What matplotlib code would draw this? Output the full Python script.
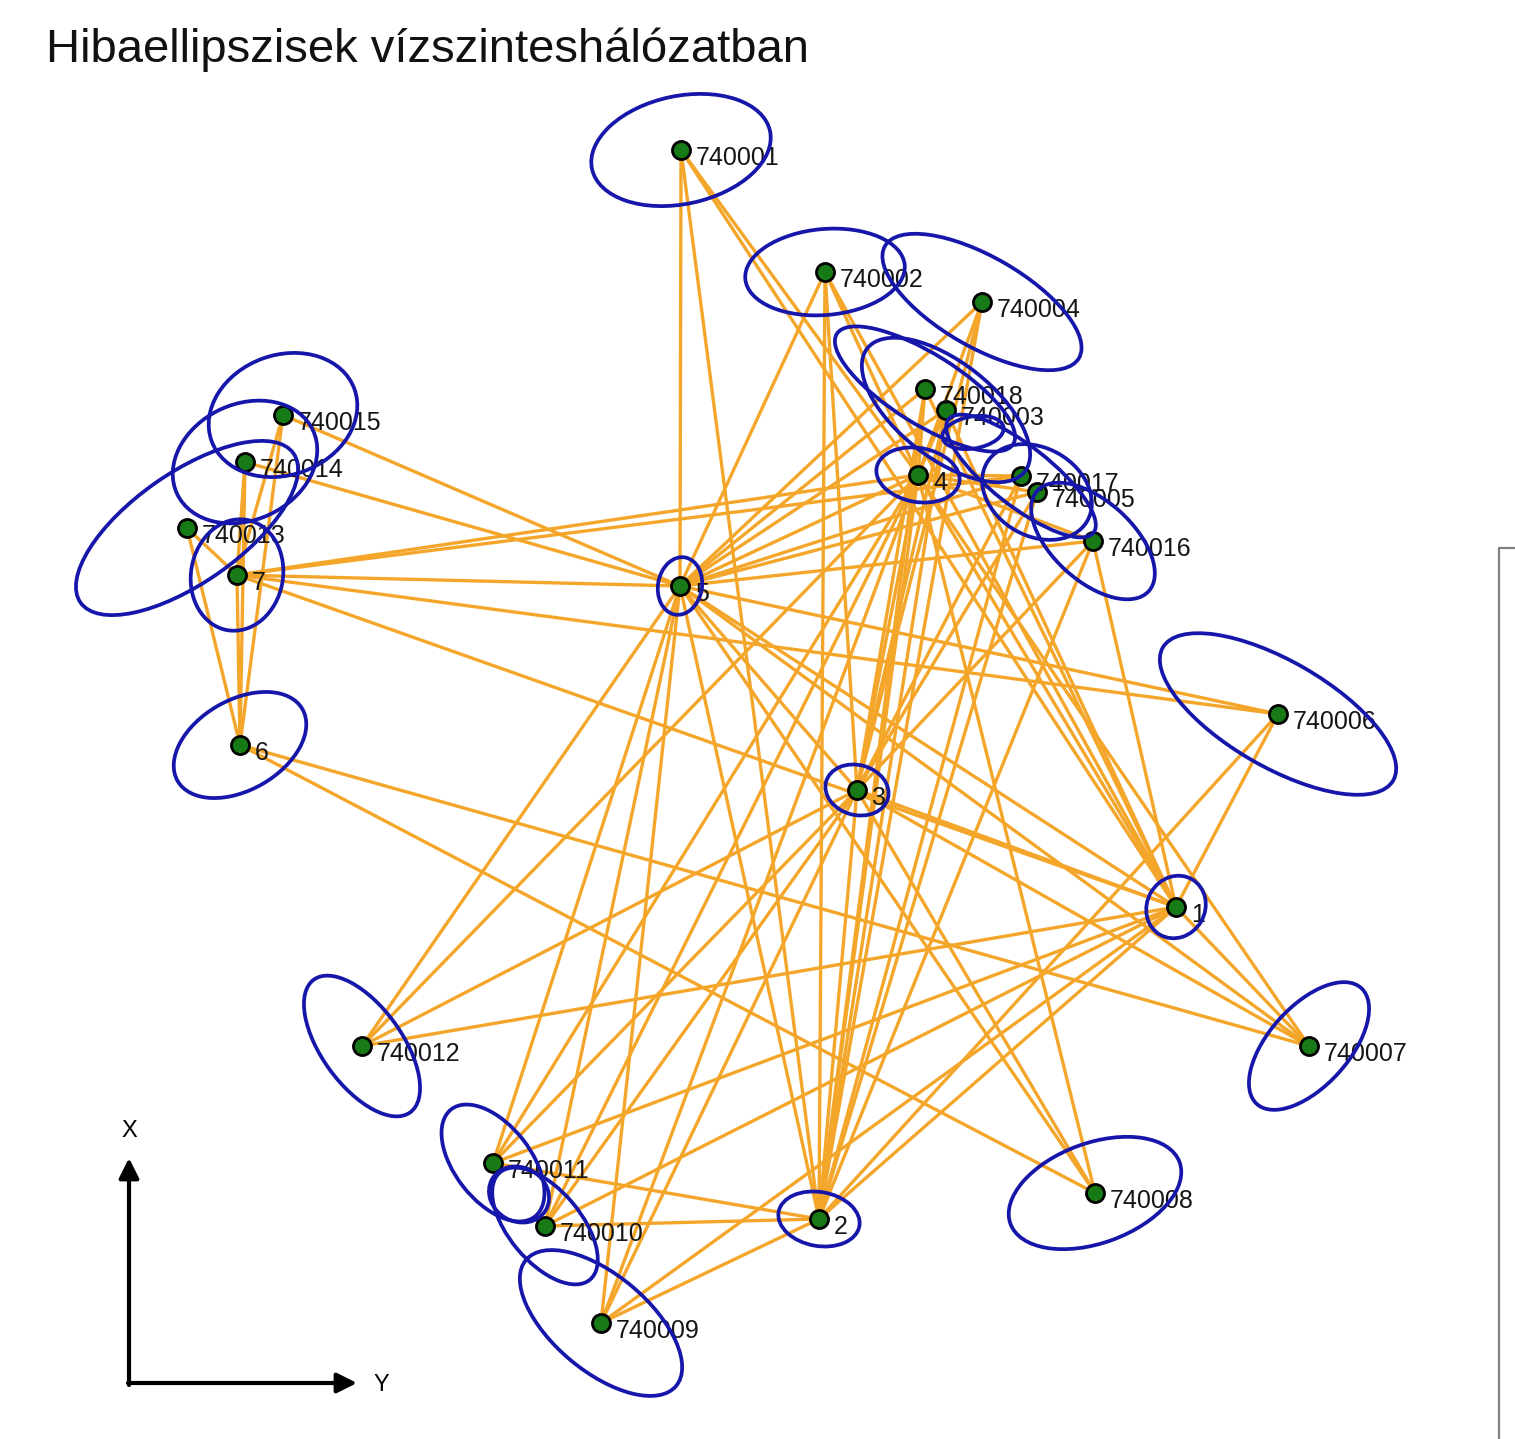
import matplotlib
matplotlib.use("Agg")
import matplotlib.pyplot as plt
from matplotlib.patches import Ellipse

# point names and coordinates (Y = east, X = north)
names = ['740001', '740002', '740004', '740018', '740003', '4', '740017', '740005',
         '740016', '740015', '740014', '740013', '7', '5', '6', '740006', '3', '1',
         '740007', '740012', '740011', '740010', '2', '740008', '740009']
Y = [681, 825, 982, 925, 946, 918, 1021, 1037, 1093, 283, 245, 187, 237, 680, 240,
     1278, 857, 1176, 1309, 362, 493, 545, 819, 1095, 601]
X = [1289, 1167, 1137, 1050, 1029, 964, 963, 947, 898, 1024, 977, 911, 864, 853, 694,
     725, 649, 532, 393, 393, 276, 213, 220, 246, 116]

# error ellipses: full major axis, full minor axis, orientation (deg)
ell_major = [182, 160, 224, 208, 200, 84, 184, 116, 150, 152, 150, 260, 112, 58, 144,
             266, 64, 64, 156, 164, 136, 140, 82, 180, 196]
ell_minor = [108, 86, 90, 70, 96, 54, 60, 88, 80, 120, 116, 110, 92, 44, 90,
             106, 50, 58, 80, 80, 76, 72, 54, 100, 96]
ell_angle = [12, 5, -30, -32, -38, -10, -38, -30, -42, 20, 25, 35, 80, 80, 30,
             -30, -15, 60, 48, -54, -52, -50, -10, 20, -40]

# relative ellipses between point pairs (drawn at the midpoint)
rel_pairs = [('740011', '740010'), ('740018', '740017')]
rel_major = [62, 62]
rel_minor = [54, 32]
rel_angle = [-30, 10]

# observations
edges = [
    # from 5
    ('5', '740001'), ('5', '740002'), ('5', '740004'), ('5', '740018'), ('5', '740003'),
    ('5', '4'), ('5', '740017'), ('5', '740005'), ('5', '740016'), ('5', '740015'),
    ('5', '740014'), ('5', '7'), ('5', '740006'), ('5', '3'), ('5', '1'), ('5', '740007'),
    ('5', '740008'), ('5', '2'), ('5', '740012'), ('5', '740011'), ('5', '740010'),
    ('5', '740009'),
    # from 4
    ('4', '740001'), ('4', '740002'), ('4', '740004'), ('4', '740018'), ('4', '740003'),
    ('4', '740017'), ('4', '740005'), ('4', '740016'), ('4', '7'), ('4', '3'), ('4', '2'),
    ('4', '1'), ('4', '740007'), ('4', '740008'), ('4', '740009'), ('4', '740010'),
    ('4', '740011'), ('4', '740012'),
    # from 3
    ('3', '740002'), ('3', '740004'), ('3', '740018'), ('3', '740003'), ('3', '740017'),
    ('3', '740005'), ('3', '740016'), ('3', '2'), ('3', '1'), ('3', '740007'),
    ('3', '740008'), ('3', '740009'), ('3', '740010'), ('3', '740011'), ('3', '740012'),
    # from 2
    ('2', '740001'), ('2', '740002'), ('2', '740004'), ('2', '740018'), ('2', '740003'),
    ('2', '740017'), ('2', '740005'), ('2', '740016'), ('2', '1'), ('2', '740011'),
    ('2', '740010'), ('2', '740009'), ('2', '740006'),
    # from 1
    ('1', '740001'), ('1', '740002'), ('1', '740018'), ('1', '740003'), ('1', '740016'),
    ('1', '740006'), ('1', '740007'), ('1', '740012'), ('1', '740011'), ('1', '740010'),
    ('1', '740009'), ('1', '7'),
    # from 7 and 6
    ('7', '740015'), ('7', '740014'), ('7', '740013'), ('7', '6'), ('7', '740017'),
    ('7', '740006'), ('6', '740013'), ('6', '740014'), ('6', '740015'), ('6', '740007'),
    ('6', '740008'),
]

pos = {n: (y, x) for n, y, x in zip(names, Y, X)}

W, H = 1515, 1439
fig = plt.figure(figsize=(W / 100, H / 100), dpi=100)
ax = fig.add_axes([0, 0, 1, 1])
ax.set_xlim(0, W)
ax.set_ylim(0, H)
ax.axis('off')

line_col = '#F4A62A'
ell_col = '#1616AA'

for a, b in edges:
    ax.plot([pos[a][0], pos[b][0]], [pos[a][1], pos[b][1]], color=line_col, lw=2.4,
            solid_capstyle='round', zorder=1)

ax.plot(Y, X, 'o', ms=13, mfc='#177A17', mec='black', mew=2, zorder=2)

for n, y, x in zip(names, Y, X):
    ax.text(y + 15, x - 8, n, fontsize=18, family='Liberation Sans', color='#151515',
            va='center', ha='left', zorder=3)

for y, x, w, h, ang in zip(Y, X, ell_major, ell_minor, ell_angle):
    ax.add_patch(Ellipse((y, x), w, h, angle=ang, fill=False, ec=ell_col, lw=2.7, zorder=4))

for (p, q), w, h, ang in zip(rel_pairs, rel_major, rel_minor, rel_angle):
    cy = (pos[p][0] + pos[q][0]) / 2
    cx = (pos[p][1] + pos[q][1]) / 2
    ax.add_patch(Ellipse((cy, cx), w, h, angle=ang, fill=False, ec=ell_col, lw=2.7, zorder=4))

# orientation arrows
ax.annotate('', xy=(129, H - 1158), xytext=(129, H - 1385),
            arrowprops=dict(arrowstyle='-|>', color='black', lw=3, mutation_scale=30,
                            shrinkA=0, shrinkB=0))
ax.annotate('', xy=(357, H - 1383), xytext=(128, H - 1383),
            arrowprops=dict(arrowstyle='-|>', color='black', lw=3, mutation_scale=30,
                            shrinkA=0, shrinkB=0))
ax.text(129, H - 1131, 'X', fontsize=17, family='Liberation Sans', ha='center', va='center')
ax.text(381, H - 1385, 'Y', fontsize=17, family='Liberation Sans', ha='center', va='center')

# partial frame on the right
ax.plot([1499, 1499, W + 5], [-5, H - 548, H - 548], color='#808080', lw=1.6, zorder=5)

ax.text(46, H - 50, 'Hibaellipszisek vízszinteshálózatban', fontsize=34,
        family='Liberation Sans', ha='left', va='center', color='#111111')

fig.savefig('out.png', dpi=100)
